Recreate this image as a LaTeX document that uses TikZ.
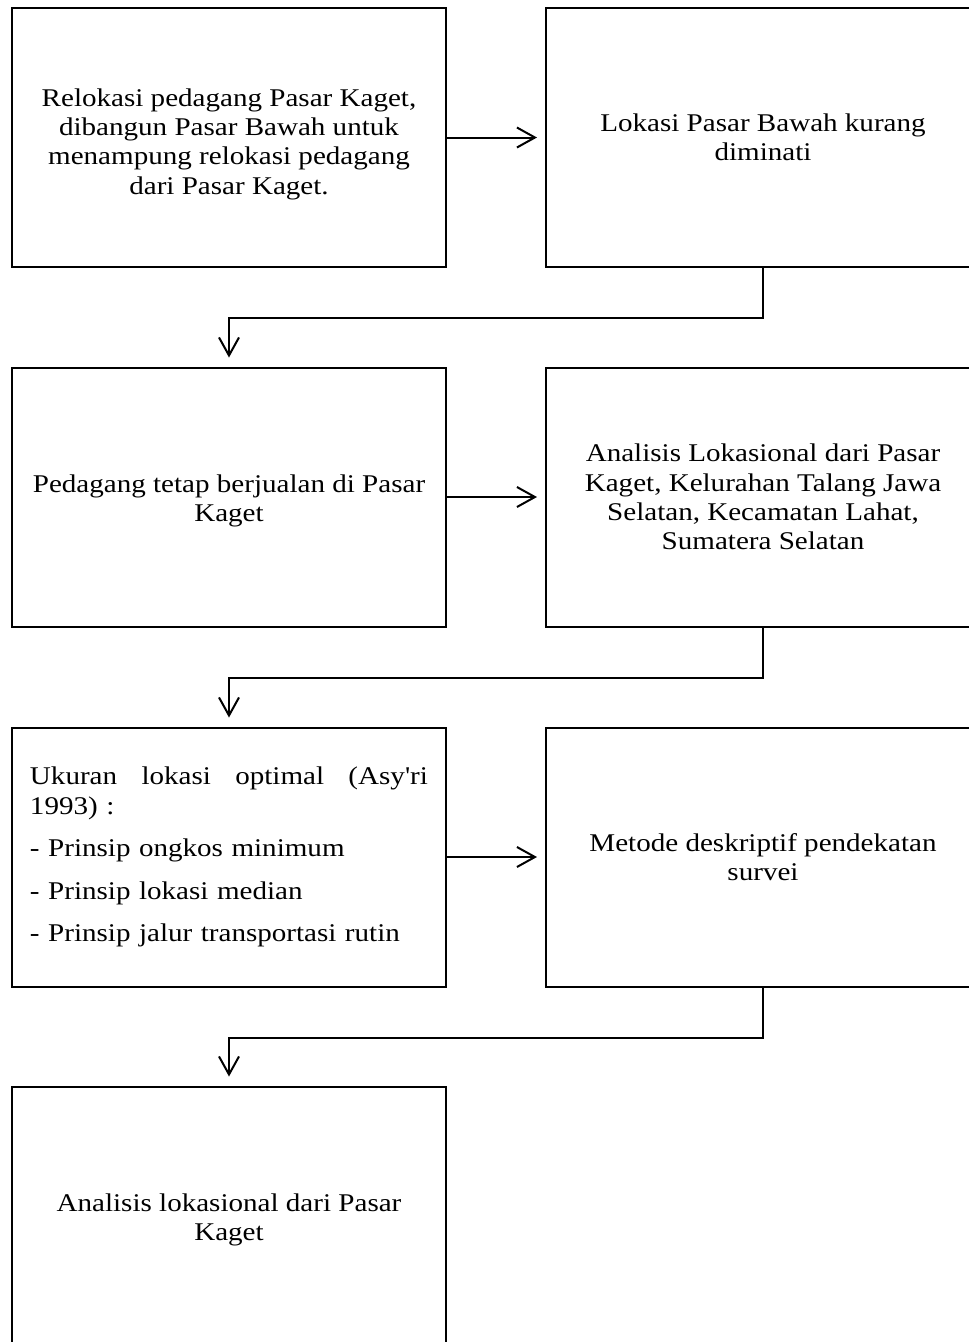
\documentclass[tikz,border=0pt]{standalone}
\usepackage{fontspec}
\setmainfont{Liberation Serif}[FakeStretch=1.14, Ligatures=TeXOff]
\usetikzlibrary{arrows.meta}
\begin{document}
\begin{tikzpicture}[x=1pt,y=-1pt,
  box/.style={draw, line width=2pt, minimum width=434pt, minimum height=259pt,
    inner sep=0pt, align=center, font=\fontsize{25.5}{29.4}\selectfont},
  arr/.style={line width=2pt, -{Straight Barb[length=18pt,width=20pt]}}]
\useasboundingbox (0,0) rectangle (969,1342);
\clip (0,0) rectangle (969,1342);
\node[box] (l1) at (229,137.5) {\rule{0pt}{31pt}Relokasi pedagang Pasar Kaget,\\dibangun Pasar Bawah untuk\\menampung relokasi pedagang\\dari Pasar Kaget.};
\node[box] (r1) at (763,137.5) {Lokasi Pasar Bawah kurang\\diminati};
\node[box] (l2) at (229,497) {\rule{0pt}{25pt}Pedagang tetap berjualan di Pasar\\Kaget};
\node[box] (r2) at (763,497) {Analisis Lokasional dari Pasar\\Kaget, Kelurahan Talang Jawa\\Selatan, Kecamatan Lahat,\\Sumatera Selatan};
\node[box, align=left, text width=398pt] (l3) at (229,857) {\hbox to 398pt{Ukuran\hfill lokasi\hfill optimal\hfill (Asy'ri}\\
1993) :\\[13pt]
- Prinsip ongkos minimum\\[13pt]
- Prinsip lokasi median\\[13pt]
- Prinsip jalur transportasi rutin};
\node[box] (r3) at (763,857) {Metode deskriptif pendekatan\\survei};
\node[box] (l4) at (229,1216) {\rule{0pt}{26pt}Analisis lokasional dari Pasar\\Kaget};
\draw[arr, shorten >=8pt] (l1) -- (r1);
\draw[arr, shorten >=8pt] (l2) -- (r2);
\draw[arr, shorten >=8pt] (l3) -- (r3);
\draw[arr, shorten >=9pt] (r1.south) -- ++(0,50) -| (l2.north);
\draw[arr, shorten >=9pt] (r2.south) -- ++(0,50) -| (l3.north);
\draw[arr, shorten >=9pt] (r3.south) -- ++(0,50) -| (l4.north);
\end{tikzpicture}
\end{document}
